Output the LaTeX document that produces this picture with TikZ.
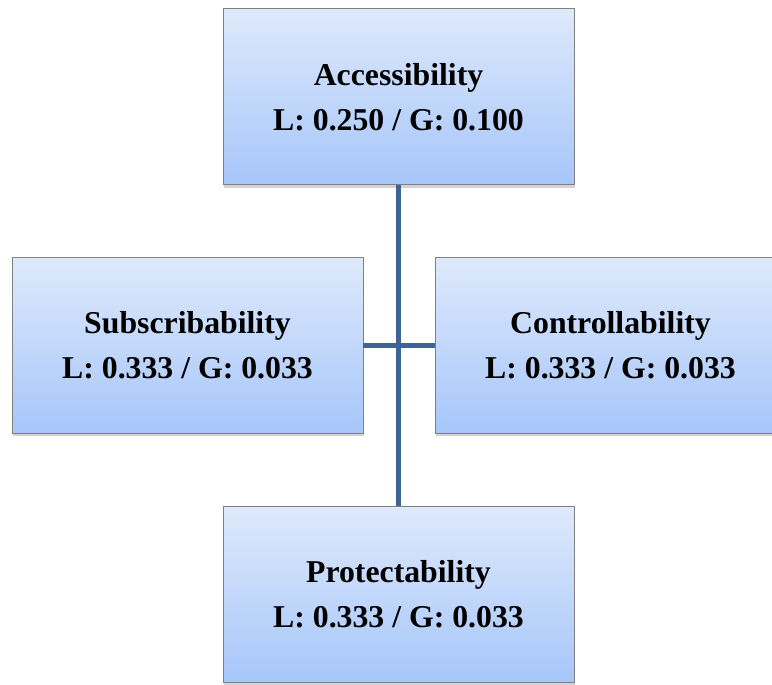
\documentclass[tikz,border=0pt]{standalone}
\usepackage{fontspec}
\setmainfont{Liberation Serif}
\usetikzlibrary{shadows}
\definecolor{boxtop}{RGB}{222,233,251}
\definecolor{boxbot}{RGB}{166,198,250}
\definecolor{boxline}{RGB}{128,128,128}
\definecolor{linkblue}{RGB}{62,100,150}

\begin{document}
\begin{tikzpicture}[
    critbox/.style={draw=boxline, line width=0.7pt, top color=boxtop, bottom color=boxbot,
      minimum width=8.775cm, minimum height=4.4cm, align=center, inner sep=0pt,
      font=\fontsize{22.6}{32}\selectfont\bfseries,
      drop shadow={shadow xshift=0.4pt, shadow yshift=-2pt, opacity=0.35}},
    link/.style={linkblue, line width=3.6pt}]
  \useasboundingbox (0,0) rectangle (19.3,17.125);
  \node[critbox] (acc) at (9.9625,14.7) {Accessibility\\L: 0.250 / G: 0.100};
  \node[critbox] (sub) at (4.6875,8.4875) {Subscribability\\L: 0.333 / G: 0.033};
  \node[critbox] (con) at (15.2625,8.4875) {Controllability\\L: 0.333 / G: 0.033};
  \node[critbox] (pro) at (9.9625,2.2625) {Protectability\\L: 0.333 / G: 0.033};
  \draw[link] (acc.south) -- (pro.north);
  \draw[link] (sub.east) -- (con.west);
\end{tikzpicture}
\end{document}
